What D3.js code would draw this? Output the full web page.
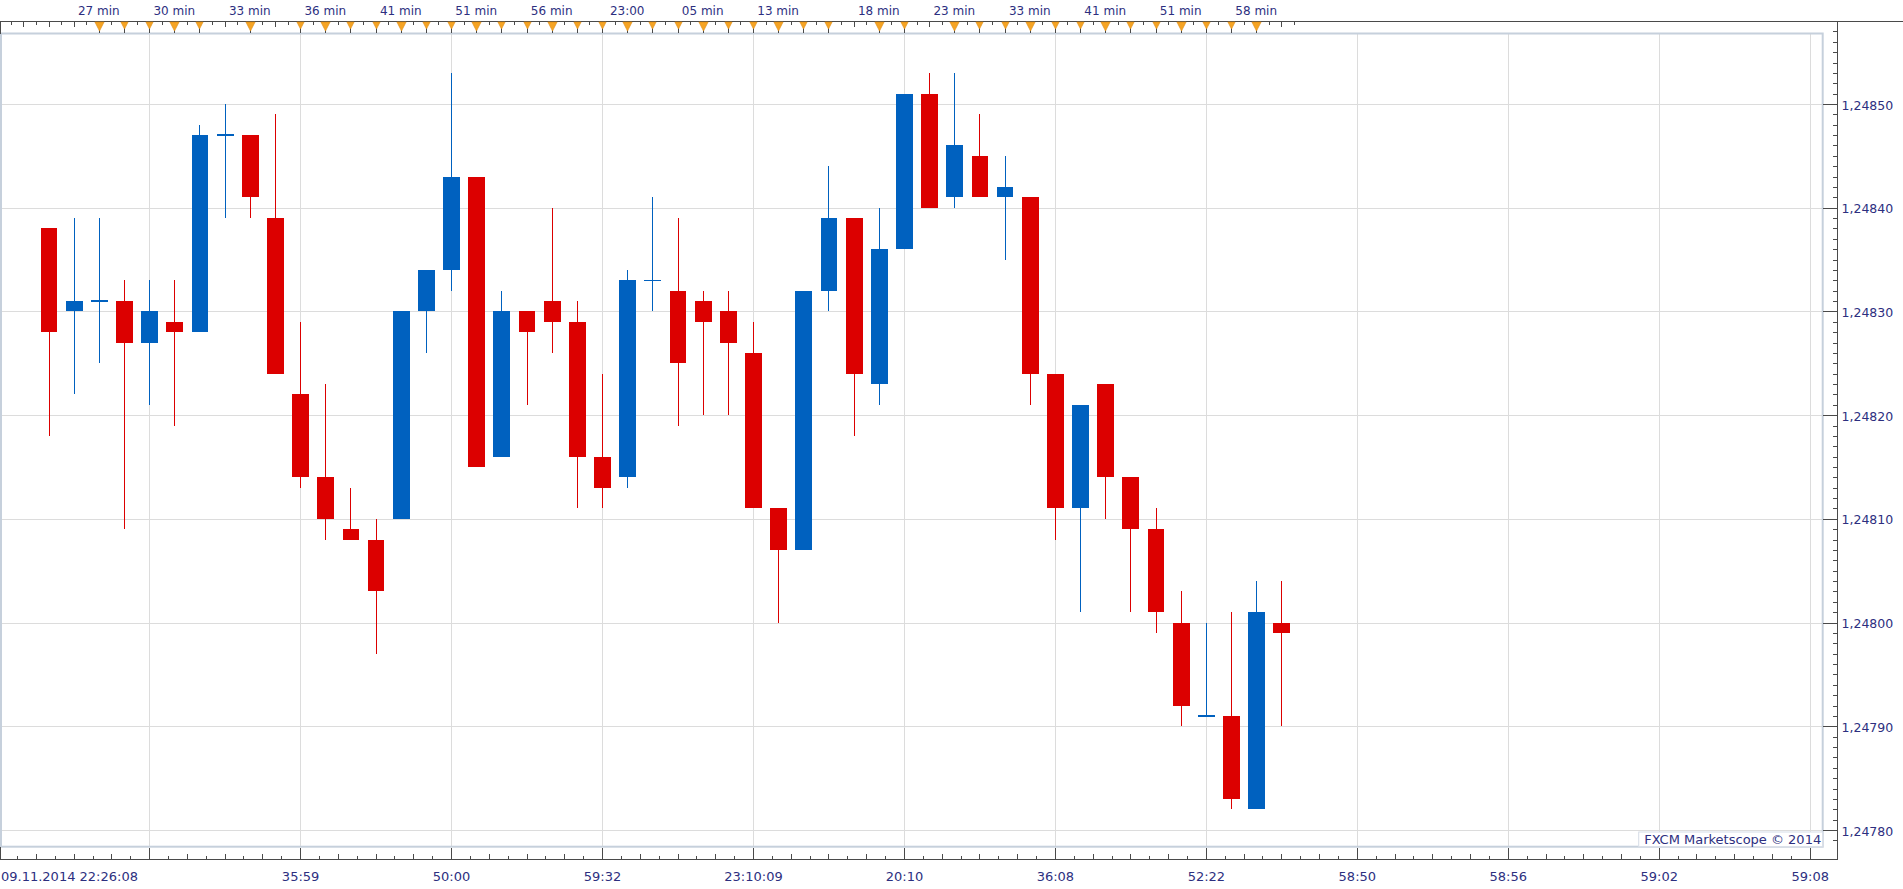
<!DOCTYPE html>
<html><head><meta charset="utf-8">
<script src="https://cdn.jsdelivr.net/npm/d3@7"></script>
<style>
body{margin:0;background:#fff;}
svg{display:block;}
text{font-family:"DejaVu Sans",Verdana,sans-serif;fill:#2d2f7f;}
</style>
</head><body>
<svg id="c" width="1903" height="889"></svg>
<script>
// ---- data (EUR/USD-like 1-minute candles) ----
const opens  = [1.24838,1.24830,1.24831,1.24831,1.24827,1.24829,1.24828,1.24847,1.24847,1.24839,
                1.24822,1.24814,1.24809,1.24808,1.24810,1.24830,1.24834,1.24843,1.24816,1.24830,
                1.24831,1.24829,1.24816,1.24814,1.24833,1.24832,1.24831,1.24830,1.24826,1.24811,
                1.24807,1.24832,1.24839,1.24823,1.24836,1.24851,1.24841,1.24845,1.24841,1.24841,
                1.24824,1.24811,1.24823,1.24814,1.24809,1.24800,1.24791,1.24791,1.24782,1.24800];
const highs  = [1.24838,1.24839,1.24839,1.24833,1.24833,1.24833,1.24848,1.24850,1.24847,1.24849,
                1.24829,1.24823,1.24813,1.24810,1.24830,1.24834,1.24853,1.24843,1.24832,1.24830,
                1.24840,1.24831,1.24824,1.24834,1.24841,1.24839,1.24832,1.24832,1.24829,1.24811,
                1.24832,1.24844,1.24839,1.24840,1.24851,1.24853,1.24853,1.24849,1.24845,1.24841,
                1.24824,1.24821,1.24823,1.24814,1.24811,1.24803,1.24800,1.24801,1.24804,1.24804];
const lows   = [1.24818,1.24822,1.24825,1.24809,1.24821,1.24819,1.24828,1.24839,1.24839,1.24824,
                1.24813,1.24808,1.24808,1.24797,1.24810,1.24826,1.24832,1.24815,1.24816,1.24821,
                1.24826,1.24811,1.24811,1.24813,1.24830,1.24819,1.24820,1.24820,1.24811,1.24800,
                1.24807,1.24830,1.24818,1.24821,1.24836,1.24840,1.24840,1.24841,1.24835,1.24821,
                1.24808,1.24801,1.24810,1.24801,1.24799,1.24790,1.24791,1.24782,1.24782,1.24790];
const closes = [1.24828,1.24831,1.24831,1.24827,1.24830,1.24828,1.24847,1.24847,1.24841,1.24824,
                1.24814,1.24810,1.24808,1.24803,1.24830,1.24834,1.24843,1.24815,1.24830,1.24828,
                1.24829,1.24816,1.24813,1.24833,1.24833,1.24825,1.24829,1.24827,1.24811,1.24807,
                1.24832,1.24839,1.24824,1.24836,1.24851,1.24840,1.24846,1.24841,1.24842,1.24824,
                1.24811,1.24821,1.24814,1.24809,1.24801,1.24792,1.24791,1.24783,1.24801,1.24799];

const priceTicks = [1.24780,1.24790,1.24800,1.24810,1.24820,1.24830,1.24840,1.24850];
const bottomTickIdx = [-2,4,10,16,22,28,34,40,46,52,58,64,70];
const bottomLabels  = ["09.11.2014 22:26:08","","35:59","50:00","59:32","23:10:09","20:10",
                       "36:08","52:22","58:50","58:56","59:02","59:08"];
const topLabelIdx = [2,5,8,11,14,17,20,23,26,29,33,36,39,42,45,48];
const topLabels   = ["27 min","30 min","33 min","36 min","41 min","51 min","56 min","23:00",
                     "05 min","13 min","18 min","23 min","33 min","41 min","51 min","58 min"];
const markerIdx = [2,3,4,5,6,8,10,11,12,13,14,15,16,17,18,19,20,21,22,23,24,25,26,27,28,29,30,31,
                   33,34,36,37,38,39,40,41,42,43,44,45,46,47,48];
const copyright = "FXCM Marketscope \u00A9 2014";

// ---- layout ----
const W = 1903, H = 889;
const plotL = 1, plotR = 1822.7, plotT = 33.5, plotB = 846.7;
const axisTopY = 21.5, axisBotY = 859.5, axisRightX = 1837.5;
const UP = "#0061bf", DOWN = "#dc0000", GRID = "#dcdcdc", BORDER = "#c6d0dc", AXIS = "#4a4a4a";

const svg = d3.select("#c");
const x = d3.scaleLinear().domain([0, 70]).range([48.5, 1809.7]);
const y = d3.scaleLinear().domain([1.24780, 1.24850]).range([830, 104]);

svg.append("rect").attr("width", W).attr("height", H).attr("fill", "#fff");

// grid
const grid = svg.append("g").attr("shape-rendering", "crispEdges");
grid.selectAll(".hg").data(priceTicks).join("line")
  .attr("x1", plotL).attr("x2", plotR)
  .attr("y1", d => Math.round(y(d)) + 0.5).attr("y2", d => Math.round(y(d)) + 0.5)
  .attr("stroke", GRID).attr("stroke-width", 1);
grid.selectAll(".vg").data(bottomTickIdx.filter(d => d > 0)).join("line")
  .attr("x1", d => Math.round(x(d)) + 0.5).attr("x2", d => Math.round(x(d)) + 0.5)
  .attr("y1", plotT).attr("y2", plotB)
  .attr("stroke", GRID).attr("stroke-width", 1);

// plot border
svg.append("rect").attr("x", plotL).attr("y", plotT)
  .attr("width", plotR - plotL).attr("height", plotB - plotT)
  .attr("fill", "none").attr("stroke", BORDER).attr("stroke-width", 2);

// candles
const candles = d3.range(opens.length).map(i => ({i, o: opens[i], h: highs[i], l: lows[i], c: closes[i]}));
const bw = 16.8;
const cg = svg.append("g").attr("shape-rendering", "crispEdges");
const cs = cg.selectAll("g").data(candles).join("g");
cs.append("rect")
  .attr("x", d => Math.round(x(d.i)) )
  .attr("width", 1)
  .attr("y", d => y(d.h)).attr("height", d => Math.max(1, y(d.l) - y(d.h)))
  .attr("fill", d => d.c >= d.o ? UP : DOWN);
cs.append("rect")
  .attr("x", d => x(d.i) - bw / 2 + 0.5).attr("width", bw)
  .attr("y", d => d.c === d.o ? y(d.o) - 0.75 : y(Math.max(d.o, d.c)))
  .attr("height", d => d.c === d.o ? 1.5 : y(Math.min(d.o, d.c)) - y(Math.max(d.o, d.c)))
  .attr("fill", d => d.c >= d.o ? UP : DOWN);

// copyright box
const cbW = 184;
svg.append("rect").attr("x", plotR - cbW).attr("y", 832).attr("width", cbW).attr("height", plotB - 832)
  .attr("fill", "#fff").attr("stroke", "#d6dde7").attr("stroke-width", 1);
svg.append("text").attr("x", plotR - 1.5).attr("y", 843.5).attr("text-anchor", "end")
  .attr("font-size", 13).text(copyright);

// ---- right axis ----
const axG = svg.append("g").attr("shape-rendering", "crispEdges");
axG.append("line").attr("x1", axisRightX).attr("x2", axisRightX).attr("y1", axisTopY).attr("y2", axisBotY)
  .attr("stroke", AXIS);
const minorPrices = d3.range(-1, 79).map(k => 1.24780 + k / 1e5).filter(v => priceTicks.every(t => Math.abs(t - v) > 1e-7));
const rMinor = svg.append("g").attr("transform", `translate(${axisRightX},0)`)
  .call(d3.axisRight(y).tickValues(minorPrices).tickSizeInner(-5).tickSizeOuter(0).tickFormat(""));
rMinor.select(".domain").remove();
rMinor.selectAll("line").attr("stroke", AXIS).attr("shape-rendering", "crispEdges");
const rMaj = svg.append("g").attr("transform", `translate(${axisRightX},0)`)
  .call(d3.axisRight(y).tickValues(priceTicks).tickSizeInner(-15).tickSizeOuter(0).tickPadding(4)
    .tickFormat(d => d3.format(".5f")(d).replace(".", ",")));
rMaj.select(".domain").remove();
rMaj.selectAll("line").attr("stroke", AXIS).attr("shape-rendering", "crispEdges");
rMaj.selectAll("text").attr("font-size", 12.5).attr("fill", "#2d2f7f").attr("font-family", "DejaVu Sans").attr("dy", "0.4em");

// ---- bottom axis ----
axG.append("line").attr("x1", 0).attr("x2", axisRightX).attr("y1", axisBotY).attr("y2", axisBotY).attr("stroke", AXIS);
axG.append("line").attr("x1", 0.5).attr("x2", 0.5).attr("y1", plotB).attr("y2", axisBotY).attr("stroke", AXIS);
const minorIdx = d3.range(-2, 70.01, 0.75).filter(v => !bottomTickIdx.includes(v));
const bMinor = svg.append("g").attr("transform", `translate(0,${axisBotY})`)
  .call(d3.axisBottom(x).tickValues(minorIdx).tickSizeOuter(0).tickFormat(""));
bMinor.select(".domain").remove();
bMinor.selectAll("line").attr("stroke", AXIS).attr("shape-rendering", "crispEdges")
  .attr("y2", (d, i) => (Math.round((d + 2) / 0.75) % 2 === 0 ? -6 : -3.5));
const bMaj = svg.append("g").attr("transform", `translate(0,${axisBotY})`)
  .call(d3.axisBottom(x).tickValues(bottomTickIdx).tickSizeInner(-12).tickSizeOuter(0).tickPadding(12)
    .tickFormat((d, i) => bottomLabels[i]));
bMaj.select(".domain").remove();
bMaj.selectAll("line").attr("stroke", AXIS).attr("shape-rendering", "crispEdges");
bMaj.selectAll("text").attr("font-size", 13).attr("fill", "#2d2f7f").attr("font-family", "DejaVu Sans");
bMaj.selectAll(".tick").filter(d => d === -2).select("text")
  .attr("text-anchor", "start").attr("x", -x(-2) + 0.5);

// ---- top axis ----
axG.append("line").attr("x1", 0).attr("x2", W).attr("y1", axisTopY).attr("y2", axisTopY).attr("stroke", AXIS);
axG.append("line").attr("x1", 0.5).attr("x2", 0.5).attr("y1", axisTopY).attr("y2", plotT).attr("stroke", AXIS);
const topTickIdx = d3.range(-1.5, 49.6, 0.5);
const tAx = svg.append("g").attr("transform", `translate(0,${axisTopY})`)
  .call(d3.axisBottom(x).tickValues(topTickIdx).tickSizeOuter(0).tickFormat(""));
tAx.select(".domain").remove();
tAx.selectAll("line").attr("stroke", AXIS).attr("shape-rendering", "crispEdges")
  .attr("y2", d => markerIdx.includes(d) ? 11.5 : (Number.isInteger(d) ? 5 : 3.5));

// markers (orange triangles)
const mg = svg.append("g");
mg.selectAll("path").data(markerIdx).join("path")
  .attr("d", d => {
    const big = topLabelIdx.includes(d);
    const hw = big ? 4.6 : 3.6, h = big ? 9 : 7;
    const cx = Math.round(x(d)) + 0.5, t = axisTopY + 0.5;
    return `M${cx - hw},${t}L${cx + hw},${t}L${cx},${t + h}Z`;
  })
  .attr("fill", "#f6a424").attr("stroke", "#de8c12").attr("stroke-width", 0.6);

svg.append("g").selectAll("text").data(topLabelIdx).join("text")
  .attr("x", d => x(d)).attr("y", 15).attr("text-anchor", "middle")
  .attr("font-size", 12).text((d, i) => topLabels[i]);
</script>
</body></html>
